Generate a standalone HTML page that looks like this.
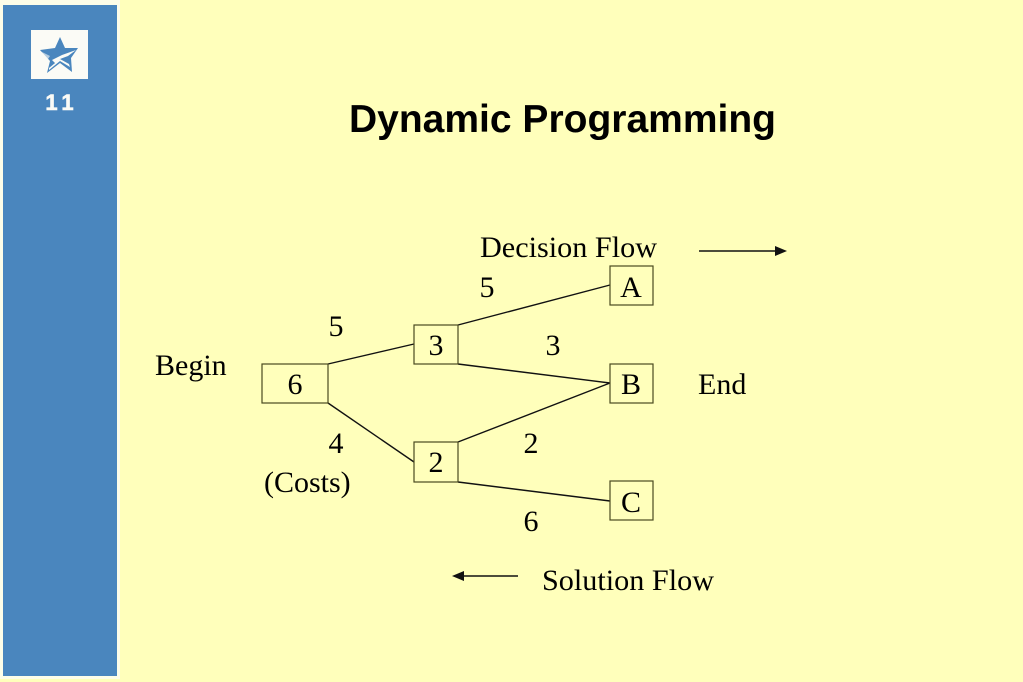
<!DOCTYPE html>
<html>
<head>
<meta charset="utf-8">
<style>
html,body{margin:0;padding:0;width:1023px;height:682px;overflow:hidden;background:#ffffbb}
svg{display:block}
</style>
</head>
<body>
<svg width="1023" height="682" viewBox="0 0 1023 682" xmlns="http://www.w3.org/2000/svg">
<rect width="1023" height="682" fill="#ffffbb"/>
<rect x="0" y="0" width="120" height="679" fill="#fdfde8"/>
<rect x="3" y="5" width="114" height="671" fill="#4a86be"/>
<rect x="31" y="30" width="57" height="49" fill="#fbfbf6"/>
<polygon points="60,37 65,48 78,48 71,58 72,72 60,63 47,73 50,61 40,50 55,48" fill="#4a86be"/>
<polygon points="52,60 62,55 76,50 68,56 60,59 56,64" fill="#fbfbf6"/>
<polygon points="42,52 50,56 48,59 44,56" fill="#fbfbf6" opacity=".6"/>
<polygon points="49,68 60,59 69,64 70,67 60,61 49,70" fill="#fbfbf6"/>
<text x="62" y="110" text-anchor="middle" font-family="'Liberation Sans',sans-serif" font-weight="bold" font-size="22" letter-spacing="5" fill="#fbfbf6" stroke="#fbfbf6" stroke-width="0.6">11</text>

<text x="562.5" y="132" text-anchor="middle" font-family="'Liberation Sans',sans-serif" font-weight="bold" font-size="39" textLength="427" lengthAdjust="spacingAndGlyphs" fill="#000">Dynamic Programming</text>

<g stroke="#111" stroke-width="1.4" fill="none">
<line x1="328" y1="364" x2="414" y2="344"/>
<line x1="328" y1="403" x2="414" y2="462"/>
<line x1="458" y1="325" x2="610" y2="285"/>
<line x1="458" y1="364" x2="610" y2="383"/>
<line x1="458" y1="442" x2="610" y2="383"/>
<line x1="458" y1="482" x2="610" y2="501"/>
<line x1="699" y1="251" x2="776" y2="251"/>
<line x1="518" y1="576" x2="462" y2="576"/>
</g>
<polygon points="787,251 775,246 775,256" fill="#111"/>
<polygon points="452,576 464,571 464,581" fill="#111"/>
<g stroke="#4a4a20" stroke-width="1.2" fill="none">
<rect x="262" y="364" width="66" height="39"/>
<rect x="414" y="325" width="44" height="39"/>
<rect x="414" y="442" width="44" height="40"/>
<rect x="610" y="266" width="43" height="39"/>
<rect x="610" y="364" width="43" height="39"/>
<rect x="610" y="481" width="43" height="39"/>
</g>
<g font-family="'Liberation Serif',serif" font-size="30" fill="#000">
<text x="480" y="257" textLength="177" lengthAdjust="spacingAndGlyphs">Decision Flow</text>
<text x="542" y="590" textLength="172" lengthAdjust="spacingAndGlyphs">Solution Flow</text>
<text x="155" y="375">Begin</text>
<text x="698" y="394">End</text>
<text x="264" y="492">(Costs)</text>
<g text-anchor="middle">
<text x="487" y="297">5</text>
<text x="336" y="336">5</text>
<text x="553" y="355">3</text>
<text x="336" y="453">4</text>
<text x="531" y="453">2</text>
<text x="531" y="531">6</text>
<text x="295" y="394">6</text>
<text x="436" y="355">3</text>
<text x="436" y="472">2</text>
<text x="631" y="297">A</text>
<text x="631" y="394">B</text>
<text x="631" y="512">C</text>
</g>
</g>
</svg>
</body>
</html>
